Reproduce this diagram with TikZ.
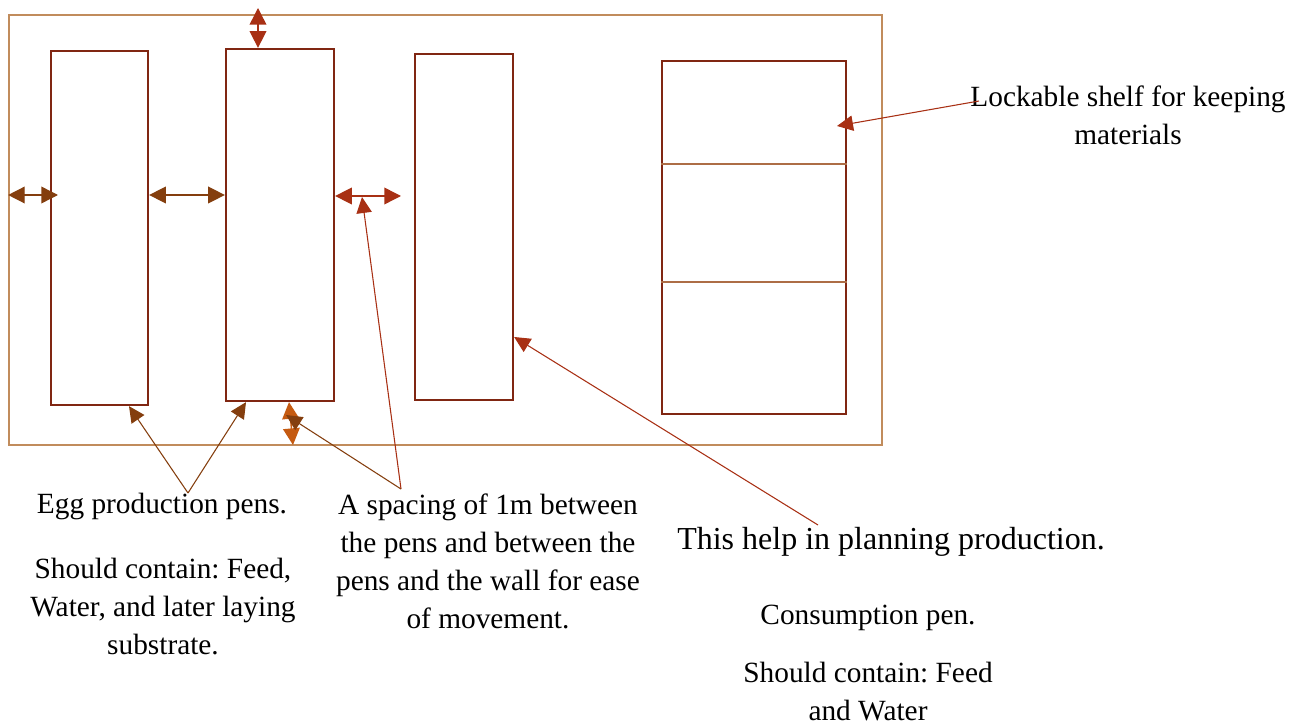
\documentclass[tikz,border=0pt]{standalone}
\usepackage{fontspec}
\setmainfont{Liberation Serif}
\usepackage{tikz}
\usetikzlibrary{positioning,fit,arrows.meta}
\frenchspacing

\definecolor{wallbrown}{RGB}{193,140,92}
\definecolor{penred}{RGB}{128,38,18}
\definecolor{rustred}{RGB}{168,48,20}
\definecolor{darkbrown}{RGB}{132,62,14}
\definecolor{burntorange}{RGB}{197,90,17}

\begin{document}
\begin{tikzpicture}[x=0.75pt, y=-0.75pt,
    wall/.style={draw=wallbrown, line width=1.4pt, inner sep=0pt},
    pen/.style={draw=penred, line width=1.7pt, inner sep=0pt},
    divider/.style={draw=wallbrown!70!penred, line width=0.8pt},
    gap/.style={{Triangle[length=12.5pt,width=12.5pt]}-{Triangle[length=12.5pt,width=12.5pt]}, line width=1.1pt},
    pointer/.style={-{Triangle[length=12pt,width=11.5pt]}, line width=0.8pt},
    note/.style={align=center, inner sep=0pt, font=\fontsize{22pt}{28.5pt}\selectfont},
  ]
  \useasboundingbox (0,0) rectangle (1306,727);

  % Definisci i nodi
  \node[wall, fit={(9,15) (882,445)}] (room) {};
  \node[pen, fit={(51,51) (148,405)}] (egg1) {};
  \node[pen, fit={(226,49) (334,401)}] (egg2) {};
  \node[pen, fit={(415,54) (513,400)}] (meat) {};
  \node[pen, fit={(662,61) (846,414)}] (shelf) {};
  \draw[divider] (shelf.west |- 0,164) -- (shelf.east |- 0,164);
  \draw[divider] (shelf.west |- 0,282) -- (shelf.east |- 0,282);

  \node[note, anchor=north] (eggtext) at (162,493) {Egg production pens.};
  \node[note, anchor=north] (eggneeds) at (163,558) {Should contain: Feed,\\Water, and later laying\\substrate.};
  \node[note, anchor=north] (spacing) at (488,494) {A spacing of 1m between\\the pens and between the\\pens and the wall for ease\\of movement.};
  \node[note, anchor=north, font=\fontsize{24pt}{30pt}\selectfont] (plan) at (891,527) {This help in planning production.};
  \node[note, anchor=north] (meattext) at (868,605) {Consumption pen.};
  \node[note, anchor=north] (meatneeds) at (868,662) {Should contain: Feed\\and Water};
  \node[note, anchor=north] (shelftext) at (1128,86) {Lockable shelf for keeping\\materials};

  \coordinate (eggroot) at (188,493);
  \coordinate (spaceroot) at (401,489);
  \coordinate (planroot) at (818,525);
  \coordinate (shelfroot) at (979,101);
  \coordinate (toptip) at (258,8);
  \coordinate (lefttip) at (58,195);
  \coordinate (midtip) at (401,196);
  \coordinate (lowtip) at (293,445);
  \coordinate (gapmid) at (362,197);
  \coordinate (lowmid) at (286,415);
  \coordinate (shelfmark) at (837,126);

  % Disegna le frecce
  \draw[gap, rustred] (toptip) -- (egg2.north -| toptip);
  \draw[gap, darkbrown] (room.west |- lefttip) -- (lefttip);
  \draw[gap, darkbrown] (egg1.east |- 0,195) -- (egg2.west |- 0,195);
  \draw[gap, rustred] (egg2.east |- midtip) -- (midtip);
  \draw[gap, burntorange] (egg2.south -| 289,0) -- (lowtip);

  \draw[pointer, darkbrown] (eggroot) -- (egg1.south -| 129,0);
  \draw[pointer, darkbrown] (eggroot) -- (egg2.south -| 246,0);
  \draw[pointer, rustred] (spaceroot) -- (gapmid);
  \draw[pointer, darkbrown] (spaceroot) -- (lowmid);
  \draw[pointer, rustred] (planroot) -- (meat.east |- 0,337);
  \draw[pointer, rustred] (shelfroot) -- (shelfmark);
\end{tikzpicture}
\end{document}
